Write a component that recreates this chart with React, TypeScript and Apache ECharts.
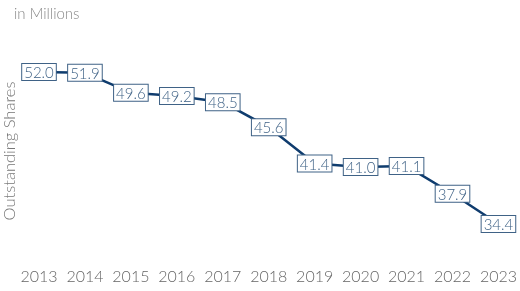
import React, { useEffect, useRef } from "react";
import * as echarts from "echarts";

const years = ["2013", "2014", "2015", "2016", "2017", "2018", "2019", "2020", "2021", "2022", "2023"];
const shares = [52.0, 51.9, 49.6, 49.2, 48.5, 45.6, 41.4, 41.0, 41.1, 37.9, 34.4];
const yTitle = "Outstanding Shares";
const unitNote = "in Millions";

export default function App() {
  const ref = useRef<HTMLDivElement>(null);
  useEffect(() => {
    if (!ref.current) return;
    const chart = echarts.init(ref.current, null, { renderer: "svg" });
    const font = "Lato, 'Open Sans', sans-serif";
    chart.setOption({
      animation: false,
      grid: { left: 39, right: 19, top: 46, bottom: 29 },
      xAxis: {
        type: "category",
        data: years,
        boundaryGap: false,
        axisLine: { show: false },
        axisTick: { show: false },
        axisLabel: { color: "#666", fontSize: 16, fontFamily: font, fontWeight: 300, margin: 5, interval: 0 },
      },
      yAxis: {
        type: "value",
        min: 30,
        max: 55,
        show: false,
        splitLine: { show: false },
      },
      graphic: [
        {
          type: "text",
          x: 14,
          y: 13,
          style: { text: unitNote, fontSize: 15, fontFamily: font, fontWeight: 300, fill: "#888", textVerticalAlign: "middle" },
        },
        {
          type: "text",
          x: 9,
          y: 151,
          rotation: Math.PI / 2,
          style: { text: yTitle, fontSize: 16.5, fontFamily: font, fontWeight: 300, fill: "#777", textAlign: "center", textVerticalAlign: "middle" },
        },
      ],
      series: [
        {
          type: "line",
          data: shares,
          symbol: "circle",
          symbolSize: 1,
          itemStyle: { color: "#0f3c6e" },
          lineStyle: { color: "#0f3c6e", width: 2.5 },
          label: {
            show: true,
            position: "inside",
            formatter: (p: any) => Number(p.value).toFixed(1),
            fontSize: 15,
            fontFamily: font,
            fontWeight: 300,
            color: "#3f6286",
            backgroundColor: "#fff",
            borderColor: "#3f6286",
            borderWidth: 1,
            padding: [1, 2, 0, 2],
            lineHeight: 15,
          },
        },
      ],
    });
    return () => chart.dispose();
  }, []);
  return <div ref={ref} style={{ width: 520, height: 291, position: "fixed", left: 0, top: 0 }} />;
}
